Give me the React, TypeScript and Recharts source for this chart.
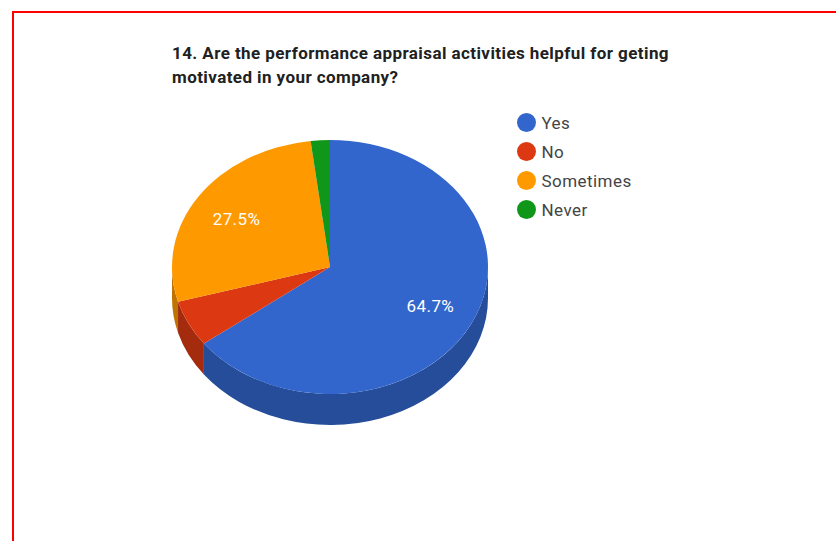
import { Legend, Pie, PieChart } from "recharts";

const answers = ["Yes", "No", "Sometimes", "Never"];
const responses = [33, 3, 14, 1];
const topColors = ["#3366cc", "#dc3912", "#ff9900", "#109618"];
const wallColors = ["#264d99", "#a52b0e", "#bf7300", "#0c7011"];
const titleLines = [
  "14. Are the performance appraisal activities helpful for geting",
  "motivated in your company?",
];

const W = 836;
const H = 541;
const CX = 330;
const CY = 267;
const RX = 158;
const RY = 127; // squashed radius for the tilted look
const DEPTH = 31;
const FONT = "Roboto, sans-serif";

const chartData = answers.map((name, i) => ({ name, value: responses[i], index: i }));

const RAD = Math.PI / 180;
const px = (a: number) => CX + RX * Math.cos(a * RAD);
const py = (a: number) => CY - RY * Math.sin(a * RAD);

// Flat top face of a slice, an elliptical sector
function TopSlice(props: any) {
  const { startAngle: a0, endAngle: a1, index } = props;
  const large = Math.abs(a0 - a1) > 180 ? 1 : 0;
  const d = `M${CX},${CY} L${px(a0)},${py(a0)} A${RX},${RY} 0 ${large} 1 ${px(a1)},${py(a1)} Z`;
  return <path d={d} fill={topColors[index]} />;
}

// Side wall, only the part of the rim facing the viewer (angles 0 to -180)
function WallSlice(props: any) {
  const { startAngle, endAngle, index } = props;
  const a0 = Math.min(startAngle, 0);
  const a1 = Math.max(endAngle, -180);
  if (a0 <= a1) return null;
  const large = a0 - a1 > 180 ? 1 : 0;
  const d =
    `M${px(a0)},${py(a0)} A${RX},${RY} 0 ${large} 1 ${px(a1)},${py(a1)} ` +
    `L${px(a1)},${py(a1) + DEPTH} A${RX},${RY} 0 ${large} 0 ${px(a0)},${py(a0) + DEPTH} Z`;
  return <path d={d} fill={wallColors[index]} />;
}

function PercentLabel(props: any) {
  const { midAngle, percent } = props;
  if (percent < 0.1) return null;
  const x = CX + RX * 0.71 * Math.cos(midAngle * RAD);
  const y = CY - RY * 0.686 * Math.sin(midAngle * RAD);
  return (
    <text
      x={x}
      y={y}
      fill="#ffffff"
      fontFamily={FONT}
      fontSize={17}
      letterSpacing={0.4}
      textAnchor="middle"
      dominantBaseline="central"
    >
      {(percent * 100).toFixed(1)}%
    </text>
  );
}

function AnswerLegend() {
  return (
    <div style={{ fontFamily: FONT, fontSize: 17, letterSpacing: 0.45, color: "#444444" }}>
      {answers.map((name, i) => (
        <div key={name} style={{ display: "flex", alignItems: "center", height: 29 }}>
          <span
            style={{ width: 19, height: 19, borderRadius: "50%", background: topColors[i], marginRight: 6 }}
          />
          {name}
        </div>
      ))}
    </div>
  );
}

export default function App() {
  return (
    <div style={{ position: "fixed", left: 0, top: 0, width: W, height: H, background: "#fff", overflow: "hidden" }}>
      {/* red frame runs off the right and bottom edges */}
      <div
        style={{
          position: "absolute",
          left: 12,
          top: 11,
          width: W,
          height: H,
          borderLeft: "2px solid #ff0000",
          borderTop: "2px solid #ff0000",
        }}
      />
      <div
        style={{
          position: "absolute",
          left: 172,
          top: 41,
          fontFamily: FONT,
          fontWeight: 700,
          fontSize: 17,
          letterSpacing: 0.42,
          lineHeight: "24px",
          color: "#212121",
          whiteSpace: "nowrap",
        }}
      >
        {titleLines.map((line) => (
          <div key={line}>{line}</div>
        ))}
      </div>
      <PieChart width={W} height={H} style={{ position: "absolute", left: 0, top: 0 }}>
        <Pie
          data={chartData}
          dataKey="value"
          nameKey="name"
          cx={CX}
          cy={CY}
          outerRadius={RX}
          startAngle={90}
          endAngle={-270}
          stroke="none"
          legendType="none"
          shape={WallSlice}
          isAnimationActive={false}
        />
        <Pie
          data={chartData}
          dataKey="value"
          nameKey="name"
          cx={CX}
          cy={CY}
          outerRadius={RX}
          startAngle={90}
          endAngle={-270}
          stroke="none"
          shape={TopSlice}
          label={PercentLabel}
          labelLine={false}
          isAnimationActive={false}
        />
        <Legend
          content={AnswerLegend}
          layout="vertical"
          wrapperStyle={{ position: "absolute", left: 516.5, top: 108, width: 140, height: 116 }}
        />
      </PieChart>
    </div>
  );
}
